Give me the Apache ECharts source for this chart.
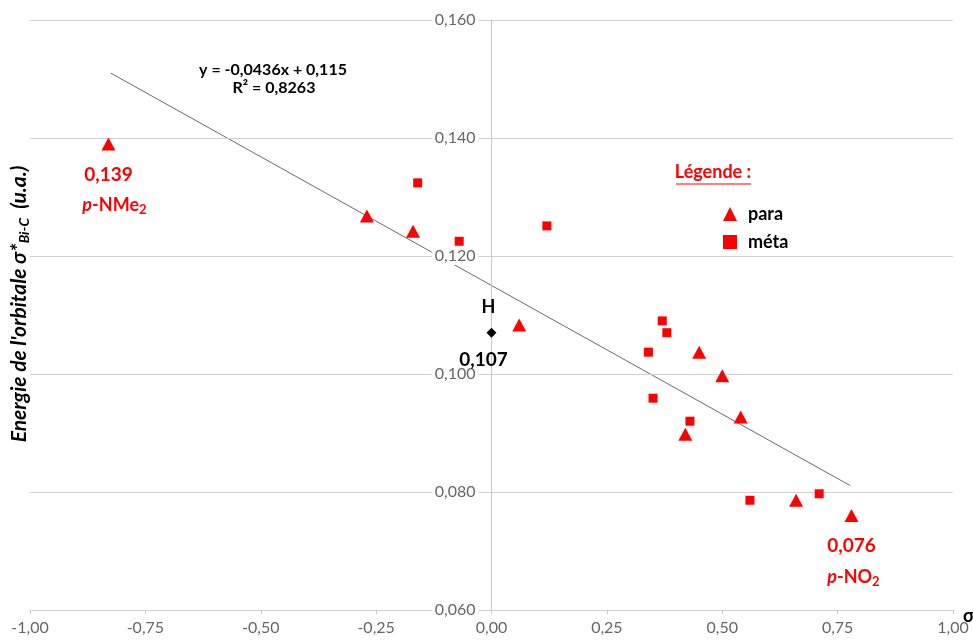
<!DOCTYPE html>
<html>
<head>
<meta charset="utf-8">
<script src="https://cdn.jsdelivr.net/npm/echarts@6/dist/echarts.min.js"></script>
<style>html,body{margin:0;padding:0;background:#fff;}#c{width:973px;height:644px;}</style>
</head>
<body>
<div id="c"></div>
<script>
// ---- data ----
const paraX = [-0.83, -0.27, -0.17, 0.06, 0.45, 0.50, 0.54, 0.42, 0.66, 0.78];
const paraY = [0.139, 0.1268, 0.1242, 0.1083, 0.1037, 0.0997, 0.0927, 0.0898, 0.0786, 0.076];
const metaX = [-0.16, -0.07, 0.12, 0.37, 0.38, 0.34, 0.35, 0.43, 0.56, 0.71];
const metaY = [0.1324, 0.1225, 0.1251, 0.1090, 0.1070, 0.1037, 0.0959, 0.0920, 0.0786, 0.0797];
const hX = [0];
const hY = [0.107];
const trendX = [-0.825, 0.777];
const trendY = [0.1510, 0.0811];
const xTicks = [-1, -0.75, -0.5, -0.25, 0, 0.25, 0.5, 0.75, 1];
const yTicks = [0.06, 0.08, 0.10, 0.12, 0.14, 0.16];

const RED = '#ff0000';
const FONT = 'Lato, "Open Sans", sans-serif';
const GRID_L = 30, GRID_R = 20;
const W = 973;

const chart = echarts.init(document.getElementById('c'), null, {renderer: 'canvas'});

function richSub(padLeft) {
  return {
    v: {fontFamily: FONT, fontWeight: 'bold', fontSize: 19, color: RED, lineHeight: 40},
    i: {fontFamily: FONT, fontWeight: 'bold', fontStyle: 'italic', fontSize: 18, color: RED, lineHeight: 22, padding: [0, 0, 0, padLeft]},
    n: {fontFamily: FONT, fontWeight: 'bold', fontSize: 18, color: RED, lineHeight: 22},
    s: {fontFamily: FONT, fontWeight: 'bold', fontSize: 13, color: RED, lineHeight: 22, padding: [9, 0, 0, 0]}
  };
}

const paraData = paraX.map((x, k) => {
  const d = {value: [x, paraY[k]]};
  if (k === 0) {
    d.label = {show: true, position: 'bottom', distance: 4, formatter: '{v|0,139}\n{i|p}{n|-NMe}{s|2}', rich: richSub(12), align: 'center'};
  }
  if (k === paraX.length - 1) {
    d.label = {show: true, position: 'bottom', distance: 4, formatter: '{v|0,076}\n{i|p}{n|-NO}{s|2}', rich: richSub(4), align: 'center'};
  }
  return d;
});
const metaData = metaX.map((x, k) => [x, metaY[k]]);
const hData = [
  {value: [hX[0], hY[0]], label: {show: true, position: 'top', distance: 12, offset: [-3, 0], formatter: 'H',
    fontFamily: FONT, fontWeight: 'bold', fontSize: 18, color: '#000'}},
  {value: [hX[0], hY[0]], symbolSize: 0, label: {show: true, position: 'bottom', distance: 18, offset: [-8, 0], formatter: '0,107',
    fontFamily: FONT, fontWeight: 'bold', fontSize: 19, color: '#000'}}
];
const trendData = trendX.map((x, k) => [x, trendY[k]]);

// y axis sits at x = 0 (middle of the -1..1 range)
const yAxisOffset = -((W - GRID_L - GRID_R) / 2);

const option = {
  animation: false,
  backgroundColor: '#fff',
  grid: {left: GRID_L, right: GRID_R, top: 20, bottom: 34, containLabel: false, outerBoundsMode: 'none'},
  xAxis: {
    type: 'value', min: -1, max: 1, interval: 0.25,
    axisLine: {show: true, onZero: false, lineStyle: {color: '#c8c8c8', width: 1}},
    axisTick: {show: true, length: 4, lineStyle: {color: '#c8c8c8'}},
    splitLine: {show: false},
    axisLabel: {
      margin: 10, color: '#666', fontFamily: FONT, fontSize: 16,
      formatter: v => (xTicks.some(t => Math.abs(t - v) < 1e-9) ? v.toFixed(2).replace('.', ',') : '')
    }
  },
  yAxis: {
    type: 'value', min: 0.06, max: 0.16, interval: 0.02,
    position: 'left', offset: yAxisOffset,
    axisLine: {show: true, onZero: false, lineStyle: {color: '#c8c8c8', width: 1}},
    axisTick: {show: false},
    splitLine: {show: true, lineStyle: {color: '#d0d0d0', width: 1}},
    axisLabel: {
      margin: 13, color: '#666', fontFamily: FONT, fontSize: 16,
      backgroundColor: '#fff', padding: [1, 3, 1, 3],
      formatter: v => (yTicks.some(t => Math.abs(t - v) < 1e-9) ? v.toFixed(3).replace('.', ',') : '')
    },
    z: 2
  },
  legend: {
    data: ['para', 'méta'],
    orient: 'vertical', left: 718, top: 200, itemGap: 10,
    itemWidth: 14, itemHeight: 14,
    textStyle: {fontFamily: FONT, fontWeight: 'bold', fontSize: 18, color: '#000', padding: [0, 0, 0, 6]}
  },
  series: [
    {
      name: 'trend', type: 'line', data: trendData, symbol: 'none', silent: true,
      lineStyle: {color: '#6a6a6a', width: 1}, z: 1
    },
    {
      name: 'para', type: 'scatter', data: paraData, symbol: 'triangle', symbolSize: [14, 13],
      itemStyle: {color: RED, opacity: 1}, z: 3
    },
    {
      name: 'méta', type: 'scatter', data: metaData, symbol: 'rect', symbolSize: 9,
      itemStyle: {color: RED, opacity: 1}, z: 3
    },
    {
      name: 'H', type: 'scatter', data: hData, symbol: 'diamond', symbolSize: 10,
      itemStyle: {color: '#000', opacity: 1}, z: 3
    }
  ],
  graphic: [
    {
      type: 'text', x: 19, y: 304, rotation: Math.PI / 2,
      style: {
        text: "{a|Energie de l'orbitale σ*}{b|Bi-C}{a|  (u.a.)}",
        align: 'center', verticalAlign: 'middle',
        rich: {
          a: {fontFamily: FONT, fontWeight: 'bold', fontStyle: 'italic', fontSize: 21, fill: '#000', lineHeight: 26},
          b: {fontFamily: FONT, fontWeight: 'bold', fontStyle: 'italic', fontSize: 14, fill: '#000', lineHeight: 26, padding: [10, 0, 0, 0]}
        }
      }
    },
    {
      type: 'text', x: 273, y: 70,
      style: {text: 'y = -0,0436x + 0,115', align: 'center', verticalAlign: 'middle',
        font: 'bold 16px Lato, sans-serif', fill: '#000'}
    },
    {
      type: 'text', x: 274, y: 88,
      style: {text: 'R² = 0,8263', align: 'center', verticalAlign: 'middle',
        font: 'bold 16px Lato, sans-serif', fill: '#000'}
    },
    {
      type: 'text', x: 713, y: 172,
      style: {text: 'Légende :', align: 'center', verticalAlign: 'middle',
        font: 'bold 18px Lato, sans-serif', fill: RED}
    },
    {
      type: 'line', shape: {x1: 676, y1: 184, x2: 751, y2: 184},
      style: {stroke: RED, lineWidth: 1}
    },
    {
      type: 'text', x: 963, y: 616,
      style: {text: 'σ', align: 'left', verticalAlign: 'middle',
        font: 'bold 18px Lato, sans-serif', fill: '#000'}
    }
  ]
};
chart.setOption(option);
</script>
</body>
</html>
